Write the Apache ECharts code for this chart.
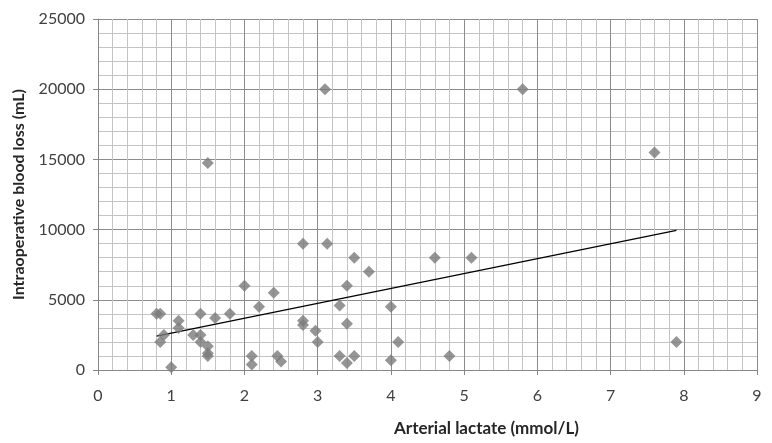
<!DOCTYPE html>
<html>
<head>
<meta charset="utf-8">
<script src="https://cdn.jsdelivr.net/npm/echarts@6/dist/echarts.min.js"></script>
<style>html,body{margin:0;padding:0;background:#fff;}#chart{width:772px;height:443px;}</style>
</head>
<body>
<div id="chart"></div>
<script>
// Arterial lactate (mmol/L)
var lactate = [0.8, 0.85, 0.9, 0.85, 1.0, 1.1, 1.1, 1.4, 1.3, 1.4, 1.4, 1.5, 1.5, 1.5, 1.6, 1.8,
  2.0, 2.1, 2.1, 2.2, 2.4, 2.45, 2.5, 2.8, 3.13, 2.8, 2.8, 2.97, 3.0,
  3.5, 3.7, 3.4, 3.3, 3.4, 3.3, 3.5, 3.4, 4.0, 4.1, 4.0, 4.8, 4.6, 5.1,
  1.5, 3.1, 5.8, 7.6, 7.9];
// Intraoperative blood loss (mL)
var bloodLoss = [4000, 4000, 2500, 2000, 200, 3500, 3000, 4000, 2500, 2500, 2000, 1700, 1200, 1000, 3700, 4000,
  6000, 1000, 400, 4500, 5500, 1000, 600, 9000, 9000, 3500, 3200, 2800, 2000,
  8000, 7000, 6000, 4600, 3300, 1000, 1000, 500, 4500, 2000, 700, 1000, 8000, 8000,
  14750, 20000, 20000, 15500, 2000];
// Linear trend line endpoints
var trendX = [0.8, 7.9];
var trendY = [2420, 9940];
var xTicks = [0, 1, 2, 3, 4, 5, 6, 7, 8, 9];
var yTicks = [0, 5000, 10000, 15000, 20000, 25000];

var points = lactate.map(function (v, i) { return [v, bloodLoss[i]]; });
var trend = trendX.map(function (v, i) { return [v, trendY[i]]; });

var chart = echarts.init(document.getElementById('chart'));
var font = 'Lato, "Open Sans", sans-serif';
chart.setOption({
  animation: false,
  backgroundColor: '#ffffff',
  grid: { left: 98, right: 15, top: 19, bottom: 73 },
  xAxis: {
    type: 'value',
    min: xTicks[0], max: xTicks[xTicks.length - 1], interval: 1,
    name: 'Arterial lactate (mmol/L)',
    nameLocation: 'middle', nameGap: 50,
    nameTextStyle: { fontFamily: font, fontWeight: 'bold', fontSize: 17, color: '#262626',
      padding: [0, 0, 0, 118] },
    axisLine: { show: true, lineStyle: { color: '#868686', width: 1 } },
    axisTick: { show: true, length: 5, lineStyle: { color: '#868686' } },
    axisLabel: { fontFamily: font, fontSize: 16, color: '#404040', margin: 18,
      formatter: function (v) { return String(v); } },
    splitLine: { show: true, lineStyle: { color: '#8c8c8c', width: 1 } },
    minorTick: { show: false, splitNumber: 5 },
    minorSplitLine: { show: true, lineStyle: { color: '#c4c4c4', width: 1 } }
  },
  yAxis: {
    type: 'value',
    min: yTicks[0], max: yTicks[yTicks.length - 1], interval: 5000,
    name: 'Intraoperative blood loss (mL)',
    nameLocation: 'middle', nameGap: 71,
    nameTextStyle: { fontFamily: font, fontWeight: 'bold', fontSize: 16, color: '#262626' },
    axisLine: { show: true, lineStyle: { color: '#868686', width: 1 } },
    axisTick: { show: true, length: 5, lineStyle: { color: '#868686' } },
    axisLabel: { fontFamily: font, fontSize: 16, color: '#404040', margin: 13,
      formatter: function (v) { return String(v); } },
    splitLine: { show: true, lineStyle: { color: '#8c8c8c', width: 1 } },
    minorTick: { show: false, splitNumber: 5 },
    minorSplitLine: { show: true, lineStyle: { color: '#c4c4c4', width: 1 } }
  },
  series: [
    {
      type: 'line',
      data: trend,
      symbol: 'none',
      lineStyle: { color: '#000000', width: 1.3 },
      z: 3
    },
    {
      type: 'scatter',
      data: points,
      symbol: 'diamond',
      symbolSize: 12,
      itemStyle: { color: '#7a7a7a' },
      z: 4
    }
  ]
});
</script>
</body>
</html>
